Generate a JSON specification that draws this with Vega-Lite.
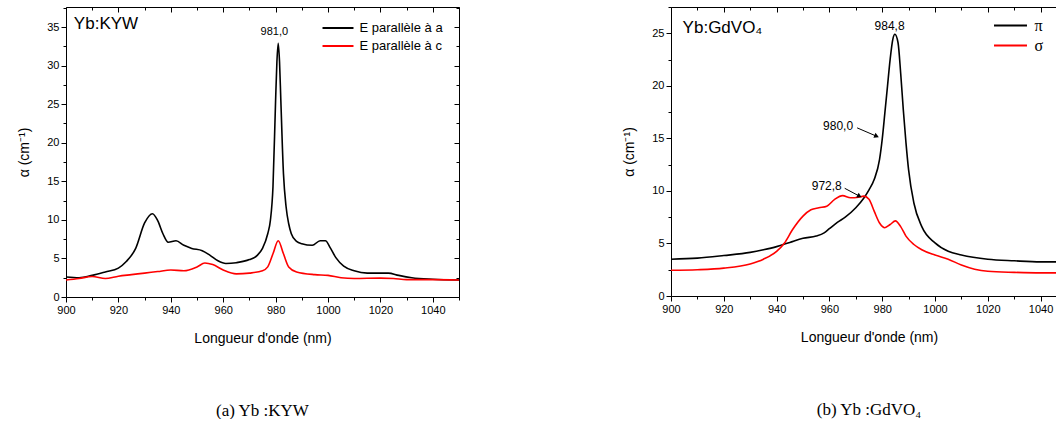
{
  "$schema": "https://vega.github.io/schema/vega-lite/v6.json",
  "background": "white",
  "padding": {"left": 17, "top": 1, "right": 0, "bottom": 0},
  "spacing": 162,
  "config": {
    "view": {"stroke": null},
    "font": "Liberation Sans",
    "axis": {
      "grid": false,
      "domainColor": "#000000",
      "domainWidth": 1,
      "tickColor": "#000000",
      "tickWidth": 1,
      "labelFont": "Liberation Sans",
      "labelFontSize": 11,
      "labelColor": "#000000",
      "labelPadding": 2,
      "labelOverlap": false,
      "labelFlush": false,
      "titleFont": "Liberation Sans",
      "titleFontSize": 14,
      "titleFontWeight": "normal",
      "titleColor": "#000000"
    },
    "legend": {
      "labelFont": "Liberation Sans",
      "labelFontSize": 13,
      "labelColor": "#000000",
      "symbolType": "M-2,0H2",
      "symbolStrokeWidth": 2,
      "padding": 0
    }
  },
  "datasets": {
    "kyw": [
      {"x": 900, "y": 2.6, "s": "E parallèle à a"},
      {"x": 905, "y": 2.5, "s": "E parallèle à a"},
      {"x": 910, "y": 2.8, "s": "E parallèle à a"},
      {"x": 915, "y": 3.25, "s": "E parallèle à a"},
      {"x": 920, "y": 3.75, "s": "E parallèle à a"},
      {"x": 923, "y": 4.6, "s": "E parallèle à a"},
      {"x": 926.6, "y": 6.3, "s": "E parallèle à a"},
      {"x": 930, "y": 9.6, "s": "E parallèle à a"},
      {"x": 933, "y": 10.8, "s": "E parallèle à a"},
      {"x": 935, "y": 9.9, "s": "E parallèle à a"},
      {"x": 937, "y": 8.2, "s": "E parallèle à a"},
      {"x": 939, "y": 7.1, "s": "E parallèle à a"},
      {"x": 942, "y": 7.3, "s": "E parallèle à a"},
      {"x": 945, "y": 6.7, "s": "E parallèle à a"},
      {"x": 948, "y": 6.3, "s": "E parallèle à a"},
      {"x": 952, "y": 6.0, "s": "E parallèle à a"},
      {"x": 955, "y": 5.4, "s": "E parallèle à a"},
      {"x": 958, "y": 4.7, "s": "E parallèle à a"},
      {"x": 961, "y": 4.35, "s": "E parallèle à a"},
      {"x": 965, "y": 4.45, "s": "E parallèle à a"},
      {"x": 970, "y": 4.85, "s": "E parallèle à a"},
      {"x": 973, "y": 5.4, "s": "E parallèle à a"},
      {"x": 975, "y": 6.3, "s": "E parallèle à a"},
      {"x": 977, "y": 8.2, "s": "E parallèle à a"},
      {"x": 978, "y": 9.9, "s": "E parallèle à a"},
      {"x": 979, "y": 14.3, "s": "E parallèle à a"},
      {"x": 980, "y": 25.5, "s": "E parallèle à a"},
      {"x": 980.5, "y": 30.5, "s": "E parallèle à a"},
      {"x": 981, "y": 32.9, "s": "E parallèle à a"},
      {"x": 981.5, "y": 30.5, "s": "E parallèle à a"},
      {"x": 982, "y": 25.5, "s": "E parallèle à a"},
      {"x": 983, "y": 16, "s": "E parallèle à a"},
      {"x": 984, "y": 11.7, "s": "E parallèle à a"},
      {"x": 985, "y": 9.5, "s": "E parallèle à a"},
      {"x": 986, "y": 8.2, "s": "E parallèle à a"},
      {"x": 988, "y": 7.2, "s": "E parallèle à a"},
      {"x": 990, "y": 6.9, "s": "E parallèle à a"},
      {"x": 994, "y": 6.7, "s": "E parallèle à a"},
      {"x": 997, "y": 7.3, "s": "E parallèle à a"},
      {"x": 999, "y": 7.3, "s": "E parallèle à a"},
      {"x": 1001, "y": 6.3, "s": "E parallèle à a"},
      {"x": 1003, "y": 5.1, "s": "E parallèle à a"},
      {"x": 1006, "y": 4.0, "s": "E parallèle à a"},
      {"x": 1010, "y": 3.4, "s": "E parallèle à a"},
      {"x": 1015, "y": 3.1, "s": "E parallèle à a"},
      {"x": 1020, "y": 3.1, "s": "E parallèle à a"},
      {"x": 1023, "y": 3.1, "s": "E parallèle à a"},
      {"x": 1027, "y": 2.8, "s": "E parallèle à a"},
      {"x": 1032, "y": 2.5, "s": "E parallèle à a"},
      {"x": 1040, "y": 2.3, "s": "E parallèle à a"},
      {"x": 1050, "y": 2.2, "s": "E parallèle à a"},
      {"x": 900, "y": 2.2, "s": "E parallèle à c"},
      {"x": 905, "y": 2.4, "s": "E parallèle à c"},
      {"x": 910, "y": 2.65, "s": "E parallèle à c"},
      {"x": 915, "y": 2.4, "s": "E parallèle à c"},
      {"x": 920, "y": 2.7, "s": "E parallèle à c"},
      {"x": 925, "y": 2.9, "s": "E parallèle à c"},
      {"x": 930, "y": 3.1, "s": "E parallèle à c"},
      {"x": 935, "y": 3.3, "s": "E parallèle à c"},
      {"x": 940, "y": 3.5, "s": "E parallèle à c"},
      {"x": 945, "y": 3.4, "s": "E parallèle à c"},
      {"x": 950, "y": 3.9, "s": "E parallèle à c"},
      {"x": 953, "y": 4.4, "s": "E parallèle à c"},
      {"x": 956, "y": 4.2, "s": "E parallèle à c"},
      {"x": 960, "y": 3.5, "s": "E parallèle à c"},
      {"x": 965, "y": 3.0, "s": "E parallèle à c"},
      {"x": 970, "y": 3.1, "s": "E parallèle à c"},
      {"x": 975, "y": 3.4, "s": "E parallèle à c"},
      {"x": 977, "y": 3.9, "s": "E parallèle à c"},
      {"x": 979, "y": 5.6, "s": "E parallèle à c"},
      {"x": 981, "y": 7.3, "s": "E parallèle à c"},
      {"x": 983, "y": 5.6, "s": "E parallèle à c"},
      {"x": 985, "y": 3.9, "s": "E parallèle à c"},
      {"x": 988, "y": 3.25, "s": "E parallèle à c"},
      {"x": 995, "y": 2.9, "s": "E parallèle à c"},
      {"x": 1000, "y": 2.8, "s": "E parallèle à c"},
      {"x": 1005, "y": 2.5, "s": "E parallèle à c"},
      {"x": 1010, "y": 2.4, "s": "E parallèle à c"},
      {"x": 1020, "y": 2.45, "s": "E parallèle à c"},
      {"x": 1025, "y": 2.4, "s": "E parallèle à c"},
      {"x": 1030, "y": 2.25, "s": "E parallèle à c"},
      {"x": 1040, "y": 2.25, "s": "E parallèle à c"},
      {"x": 1050, "y": 2.2, "s": "E parallèle à c"}
    ],
    "gdvo": [
      {"x": 900, "y": 3.5, "s": "π"},
      {"x": 910, "y": 3.6, "s": "π"},
      {"x": 920, "y": 3.85, "s": "π"},
      {"x": 930, "y": 4.15, "s": "π"},
      {"x": 935, "y": 4.4, "s": "π"},
      {"x": 940, "y": 4.7, "s": "π"},
      {"x": 945, "y": 5.1, "s": "π"},
      {"x": 950, "y": 5.5, "s": "π"},
      {"x": 955, "y": 5.7, "s": "π"},
      {"x": 958, "y": 6.0, "s": "π"},
      {"x": 960, "y": 6.4, "s": "π"},
      {"x": 963, "y": 7.0, "s": "π"},
      {"x": 966, "y": 7.5, "s": "π"},
      {"x": 970, "y": 8.4, "s": "π"},
      {"x": 973, "y": 9.3, "s": "π"},
      {"x": 975, "y": 10.1, "s": "π"},
      {"x": 977, "y": 11.1, "s": "π"},
      {"x": 979, "y": 13.0, "s": "π"},
      {"x": 980, "y": 14.9, "s": "π"},
      {"x": 981, "y": 17.4, "s": "π"},
      {"x": 982, "y": 19.95, "s": "π"},
      {"x": 983, "y": 22.5, "s": "π"},
      {"x": 984, "y": 24.4, "s": "π"},
      {"x": 984.8, "y": 24.9, "s": "π"},
      {"x": 986, "y": 24.1, "s": "π"},
      {"x": 987, "y": 21.2, "s": "π"},
      {"x": 988, "y": 17.7, "s": "π"},
      {"x": 989, "y": 14.6, "s": "π"},
      {"x": 990, "y": 12.0, "s": "π"},
      {"x": 992, "y": 8.85, "s": "π"},
      {"x": 995, "y": 6.6, "s": "π"},
      {"x": 1000, "y": 5.05, "s": "π"},
      {"x": 1005, "y": 4.25, "s": "π"},
      {"x": 1010, "y": 3.9, "s": "π"},
      {"x": 1020, "y": 3.5, "s": "π"},
      {"x": 1030, "y": 3.35, "s": "π"},
      {"x": 1040, "y": 3.25, "s": "π"},
      {"x": 1050, "y": 3.25, "s": "π"},
      {"x": 900, "y": 2.45, "s": "σ"},
      {"x": 910, "y": 2.5, "s": "σ"},
      {"x": 920, "y": 2.65, "s": "σ"},
      {"x": 930, "y": 3.05, "s": "σ"},
      {"x": 935, "y": 3.5, "s": "σ"},
      {"x": 940, "y": 4.25, "s": "σ"},
      {"x": 943, "y": 5.05, "s": "σ"},
      {"x": 946, "y": 6.3, "s": "σ"},
      {"x": 950, "y": 7.6, "s": "σ"},
      {"x": 953, "y": 8.2, "s": "σ"},
      {"x": 956, "y": 8.4, "s": "σ"},
      {"x": 959, "y": 8.55, "s": "σ"},
      {"x": 962, "y": 9.2, "s": "σ"},
      {"x": 965, "y": 9.55, "s": "σ"},
      {"x": 968, "y": 9.35, "s": "σ"},
      {"x": 971, "y": 9.4, "s": "σ"},
      {"x": 973, "y": 9.5, "s": "σ"},
      {"x": 975, "y": 9.2, "s": "σ"},
      {"x": 977, "y": 8.05, "s": "σ"},
      {"x": 979, "y": 6.95, "s": "σ"},
      {"x": 981, "y": 6.5, "s": "σ"},
      {"x": 983, "y": 6.8, "s": "σ"},
      {"x": 985, "y": 7.15, "s": "σ"},
      {"x": 987, "y": 6.6, "s": "σ"},
      {"x": 989, "y": 5.7, "s": "σ"},
      {"x": 992, "y": 4.9, "s": "σ"},
      {"x": 995, "y": 4.4, "s": "σ"},
      {"x": 1000, "y": 3.9, "s": "σ"},
      {"x": 1005, "y": 3.5, "s": "σ"},
      {"x": 1010, "y": 2.95, "s": "σ"},
      {"x": 1015, "y": 2.55, "s": "σ"},
      {"x": 1020, "y": 2.35, "s": "σ"},
      {"x": 1030, "y": 2.25, "s": "σ"},
      {"x": 1040, "y": 2.2, "s": "σ"},
      {"x": 1050, "y": 2.2, "s": "σ"}
    ]
  },
  "hconcat": [
    {
      "width": 393,
      "height": 290,
      "title": {"text": "(a) Yb :KYW", "orient": "bottom", "font": "Liberation Serif", "fontSize": 17, "fontWeight": "normal", "color": "#000000", "offset": 58, "anchor": "middle"},
      "layer": [
        {
          "data": {"name": "kyw"},
          "mark": {"type": "line", "interpolate": "monotone", "strokeWidth": 1.6, "clip": true},
          "encoding": {
            "x": {"field": "x", "type": "quantitative",
              "scale": {"domain": [900, 1050], "nice": false, "zero": false},
              "axis": {"orient": "bottom", "title": "Longueur d'onde (nm)", "titlePadding": 16, "format": "d",
                "values": [900, 910, 920, 930, 940, 950, 960, 970, 980, 990, 1000, 1010, 1020, 1030, 1040, 1050],
                "labelExpr": "datum.value % 20 === 0 ? datum.label : ''",
                "tickSize": {"condition": {"test": "datum.value % 20 === 0", "value": 5}, "value": 3}}},
            "y": {"field": "y", "type": "quantitative",
              "scale": {"domain": [0, 37.6], "nice": false, "zero": false},
              "axis": {"orient": "left", "title": "α (cm⁻¹)", "titlePadding": 15, "format": "~g",
                "values": [0, 2.5, 5, 7.5, 10, 12.5, 15, 17.5, 20, 22.5, 25, 27.5, 30, 32.5, 35, 37.5],
                "labelExpr": "datum.value % 5 === 0 ? datum.label : ''",
                "tickSize": {"condition": {"test": "datum.value % 5 === 0", "value": 5}, "value": 3}}},
            "color": {"field": "s", "type": "nominal",
              "scale": {"domain": ["E parallèle à a", "E parallèle à c"], "range": ["#000000", "#ff0000"]},
              "legend": {"title": null, "orient": "none", "legendX": 263, "legendY": 12, "symbolSize": 240, "rowPadding": 2, "labelOffset": 12.5}}
          }
        },
        {
          "data": {"values": [{"x": 979.5, "y": 34.3, "t": "981,0"}]},
          "mark": {"type": "text", "fontSize": 11, "font": "Liberation Sans", "color": "#000000", "baseline": "middle", "align": "center"},
          "encoding": {
            "x": {"field": "x", "type": "quantitative",
              "scale": {"domain": [900, 1050], "nice": false, "zero": false},
              "axis": {"orient": "top", "title": null, "labels": false, "domain": true,
                "values": [900, 910, 920, 930, 940, 950, 960, 970, 980, 990, 1000, 1010, 1020, 1030, 1040, 1050],
                "tickSize": {"condition": {"test": "datum.value % 20 === 0", "value": -5}, "value": -3}}},
            "y": {"field": "y", "type": "quantitative",
              "scale": {"domain": [0, 37.6], "nice": false, "zero": false},
              "axis": {"orient": "right", "title": null, "labels": false,
                "values": [0, 2.5, 5, 7.5, 10, 12.5, 15, 17.5, 20, 22.5, 25, 27.5, 30, 32.5, 35, 37.5],
                "tickSize": {"condition": {"test": "datum.value % 5 === 0", "value": -5}, "value": -3}}},
            "text": {"field": "t"}
          }
        },
        {
          "data": {"values": [{"x": 903, "y": 35.4, "t": "Yb:KYW"}]},
          "mark": {"type": "text", "fontSize": 17, "font": "Liberation Sans", "color": "#000000", "baseline": "middle", "align": "left"},
          "encoding": {
            "x": {"field": "x", "type": "quantitative", "scale": {"domain": [900, 1050], "nice": false, "zero": false}, "axis": null},
            "y": {"field": "y", "type": "quantitative", "scale": {"domain": [0, 37.6], "nice": false, "zero": false}, "axis": null},
            "text": {"field": "t"}
          }
        }
      ],
      "resolve": {"axis": {"x": "independent", "y": "independent"}}
    },
    {
      "width": 396,
      "height": 289,
      "title": {"text": "(b) Yb :GdVO₄", "orient": "bottom", "font": "Liberation Serif", "fontSize": 17, "fontWeight": "normal", "color": "#000000", "offset": 58, "anchor": "middle"},
      "layer": [
        {
          "data": {"name": "gdvo"},
          "mark": {"type": "line", "interpolate": "monotone", "strokeWidth": 1.6, "clip": true},
          "encoding": {
            "x": {"field": "x", "type": "quantitative",
              "scale": {"domain": [900, 1050], "nice": false, "zero": false},
              "axis": {"orient": "bottom", "title": "Longueur d'onde (nm)", "titlePadding": 16, "format": "d",
                "values": [900, 910, 920, 930, 940, 950, 960, 970, 980, 990, 1000, 1010, 1020, 1030, 1040, 1050],
                "labelExpr": "datum.value % 20 === 0 ? datum.label : ''",
                "tickSize": {"condition": {"test": "datum.value % 20 === 0", "value": 5}, "value": 3}}},
            "y": {"field": "y", "type": "quantitative",
              "scale": {"domain": [0, 27.5], "nice": false, "zero": false},
              "axis": {"orient": "left", "title": "α (cm⁻¹)", "titlePadding": 15, "format": "~g",
                "values": [0, 2.5, 5, 7.5, 10, 12.5, 15, 17.5, 20, 22.5, 25, 27.5],
                "labelExpr": "datum.value % 5 === 0 ? datum.label : ''",
                "tickSize": {"condition": {"test": "datum.value % 5 === 0", "value": 5}, "value": 3}}},
            "color": {"field": "s", "type": "nominal",
              "scale": {"domain": ["π", "σ"], "range": ["#000000", "#ff0000"]},
              "legend": {"title": null, "orient": "none", "legendX": 330, "legendY": 9, "symbolSize": 272, "rowPadding": 2, "labelOffset": 14.5, "labelFont": "Liberation Serif", "labelFontSize": 16}}
          }
        },
        {
          "data": {"values": [
            {"x": 982.8, "y": 25.7, "t": "984,8"},
            {"x": 963.3, "y": 16.2, "t": "980,0"},
            {"x": 959, "y": 10.5, "t": "972,8"}
          ]},
          "mark": {"type": "text", "fontSize": 12, "font": "Liberation Sans", "color": "#000000", "baseline": "middle", "align": "center"},
          "encoding": {
            "x": {"field": "x", "type": "quantitative",
              "scale": {"domain": [900, 1050], "nice": false, "zero": false},
              "axis": {"orient": "top", "title": null, "labels": false,
                "values": [900, 910, 920, 930, 940, 950, 960, 970, 980, 990, 1000, 1010, 1020, 1030, 1040, 1050],
                "tickSize": {"condition": {"test": "datum.value % 20 === 0", "value": -5}, "value": -3}}},
            "y": {"field": "y", "type": "quantitative",
              "scale": {"domain": [0, 27.5], "nice": false, "zero": false},
              "axis": {"orient": "right", "title": null, "labels": false,
                "values": [0, 2.5, 5, 7.5, 10, 12.5, 15, 17.5, 20, 22.5, 25, 27.5],
                "tickSize": {"condition": {"test": "datum.value % 5 === 0", "value": -5}, "value": -3}}},
            "text": {"field": "t"}
          }
        },
        {
          "data": {"values": [
            {"x1": 970.5, "y1": 16.0, "x2": 977.9, "y2": 15.2},
            {"x1": 965.8, "y1": 10.25, "x2": 971.4, "y2": 9.5}
          ]},
          "mark": {"type": "rule", "color": "#000000", "strokeWidth": 1},
          "encoding": {
            "x": {"field": "x1", "type": "quantitative", "scale": {"domain": [900, 1050], "nice": false, "zero": false}, "axis": null},
            "y": {"field": "y1", "type": "quantitative", "scale": {"domain": [0, 27.5], "nice": false, "zero": false}, "axis": null},
            "x2": {"field": "x2"},
            "y2": {"field": "y2"}
          }
        },
        {
          "data": {"values": [{"x": 977.9, "y": 15.2}]},
          "mark": {"type": "point", "shape": "triangle-right", "filled": true, "color": "#000000", "size": 30, "angle": 23, "opacity": 1},
          "encoding": {
            "x": {"field": "x", "type": "quantitative", "scale": {"domain": [900, 1050], "nice": false, "zero": false}, "axis": null},
            "y": {"field": "y", "type": "quantitative", "scale": {"domain": [0, 27.5], "nice": false, "zero": false}, "axis": null}
          }
        },
        {
          "data": {"values": [{"x": 971.4, "y": 9.5}]},
          "mark": {"type": "point", "shape": "triangle-right", "filled": true, "color": "#000000", "size": 30, "angle": 28, "opacity": 1},
          "encoding": {
            "x": {"field": "x", "type": "quantitative", "scale": {"domain": [900, 1050], "nice": false, "zero": false}, "axis": null},
            "y": {"field": "y", "type": "quantitative", "scale": {"domain": [0, 27.5], "nice": false, "zero": false}, "axis": null}
          }
        },
        {
          "data": {"values": [{"x": 904.4, "y": 25.5, "t": "Yb:GdVO₄"}]},
          "mark": {"type": "text", "fontSize": 17, "font": "Liberation Sans", "color": "#000000", "baseline": "middle", "align": "left"},
          "encoding": {
            "x": {"field": "x", "type": "quantitative", "scale": {"domain": [900, 1050], "nice": false, "zero": false}, "axis": null},
            "y": {"field": "y", "type": "quantitative", "scale": {"domain": [0, 27.5], "nice": false, "zero": false}, "axis": null},
            "text": {"field": "t"}
          }
        }
      ],
      "resolve": {"axis": {"x": "independent", "y": "independent"}}
    }
  ],
  "resolve": {"scale": {"color": "independent"}, "legend": {"color": "independent"}}
}
